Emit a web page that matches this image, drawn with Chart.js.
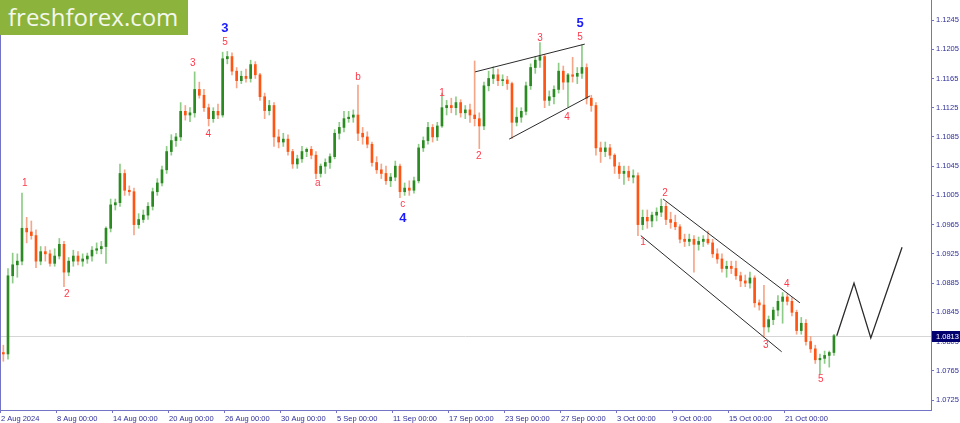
<!DOCTYPE html>
<html>
<head>
<meta charset="utf-8">
<title>EURUSD H4 - freshforex.com</title>
<script src="https://cdn.jsdelivr.net/npm/chart.js"></script>
<style>
    body {
        margin: 0;
        background: #fff;
    }

    #wrap {
        position: relative;
        width: 960px;
        height: 423px;
    }

    #logo {
        position: absolute;
        left: 0;
        top: 0;
        width: 188px;
        height: 35px;
        box-sizing: border-box;
        padding-left: 8px;
        background: #8cb43c;
        color: #f4f7ec;
        font-family: "Open Sans", sans-serif;
        font-size: 24px;
        line-height: 34px;
        white-space: nowrap;
    }
</style>
</head>
<body>
<div id="wrap">
    <canvas id="chart" width="960" height="423"></canvas>
    <div id="logo">freshforex.com</div>
</div>

<script>
// EURUSD, three bars per trading day, 2 Aug - 24 Oct 2024
var barsPerDay = 3;

var opens = [
    1.0790, 1.0788, 1.0895, 1.0910, 1.0915, 1.0960, 1.0955, 1.0950, 1.0915, 1.0928,
    1.0925, 1.0912, 1.0922, 1.0938, 1.0900, 1.0915, 1.0922, 1.0915, 1.0918, 1.0922,
    1.0930, 1.0932, 1.0935, 1.0960, 1.0992, 1.0995, 1.1035, 1.1012, 1.1010, 1.0965,
    1.0972, 1.0978, 1.0990, 1.1010, 1.1022, 1.1040, 1.1065, 1.1080, 1.1085, 1.1120,
    1.1115, 1.1118, 1.1150, 1.1142, 1.1125, 1.1110, 1.1120, 1.1115, 1.1192, 1.1195,
    1.1175, 1.1162, 1.1168, 1.1165, 1.1184, 1.1170, 1.1140, 1.1121, 1.1128, 1.1085,
    1.1078, 1.1082, 1.1065, 1.1048, 1.1055, 1.1065, 1.1068, 1.1060, 1.1035, 1.1045,
    1.1050, 1.1058, 1.1090, 1.1098, 1.1110, 1.1112, 1.1115, 1.1090, 1.1085, 1.1075,
    1.1050, 1.1040, 1.1035, 1.1025, 1.1030, 1.1045, 1.1010, 1.1015, 1.1012, 1.1025,
    1.1070, 1.1080, 1.1098, 1.1085, 1.1100, 1.1125, 1.1128, 1.1125, 1.1132, 1.1118,
    1.1122, 1.1115, 1.1110, 1.1100, 1.1155, 1.1165, 1.1170, 1.1162, 1.1163, 1.1158,
    1.1105, 1.1112, 1.1120, 1.1155, 1.1180, 1.1190, 1.1195, 1.1135, 1.1140, 1.1150,
    1.1175, 1.1160, 1.1170, 1.1168, 1.1172, 1.1180, 1.1138, 1.1128, 1.1070, 1.1065,
    1.1070, 1.1060, 1.1045, 1.1035, 1.1038, 1.1030, 1.1032, 1.0965, 1.0975, 1.0970,
    1.0978, 1.0982, 1.0990, 1.0972, 1.0968, 1.0962, 1.0945, 1.0942, 1.0945, 1.0938,
    1.0942, 1.0945, 1.0940, 1.0925, 1.0918, 1.0905, 1.0908, 1.0905, 1.0895, 1.0888,
    1.0885, 1.0892, 1.0858, 1.0855, 1.0825, 1.0835, 1.0848, 1.0860, 1.0866, 1.0860,
    1.0845, 1.0820, 1.0830, 1.0805, 1.0795, 1.0780, 1.0782, 1.0786, 1.0790
];
var highs = [
    1.0800, 1.0905, 1.0926, 1.0925, 1.1008, 1.0975, 1.0970, 1.0958, 1.0935, 1.0935,
    1.0930, 1.0932, 1.0946, 1.0942, 1.0920, 1.0930, 1.0928, 1.0925, 1.0926, 1.0935,
    1.0940, 1.0942, 1.0962, 1.1000, 1.1000, 1.1048, 1.1040, 1.1018, 1.1015, 1.0980,
    1.0985, 1.0995, 1.1015, 1.1028, 1.1045, 1.1072, 1.1088, 1.1090, 1.1132, 1.1128,
    1.1125, 1.1174, 1.1160, 1.1150, 1.1130, 1.1125, 1.1130, 1.1201, 1.1202, 1.1200,
    1.1180, 1.1175, 1.1178, 1.1190, 1.1188, 1.1172, 1.1145, 1.1135, 1.1132, 1.1095,
    1.1090, 1.1088, 1.1068, 1.1060, 1.1072, 1.1070, 1.1072, 1.1065, 1.1048, 1.1055,
    1.1062, 1.1095, 1.1105, 1.1120, 1.1120, 1.1122, 1.1156, 1.1098, 1.1092, 1.1078,
    1.1058, 1.1048, 1.1045, 1.1035, 1.1052, 1.1048, 1.1022, 1.1025, 1.1030, 1.1075,
    1.1085, 1.1105, 1.1102, 1.1105, 1.1145, 1.1135, 1.1138, 1.1140, 1.1136, 1.1128,
    1.1130, 1.1189, 1.1118, 1.1160, 1.1175, 1.1181, 1.1178, 1.1170, 1.1168, 1.1160,
    1.1125, 1.1125, 1.1160, 1.1185, 1.1195, 1.1214, 1.1198, 1.1148, 1.1155, 1.1186,
    1.1182, 1.1172, 1.1194, 1.1180, 1.1211, 1.1185, 1.1142, 1.1132, 1.1078, 1.1078,
    1.1075, 1.1062, 1.1050, 1.1045, 1.1045, 1.1040, 1.1036, 1.0985, 1.0985, 1.0982,
    1.0988, 1.1000, 1.0995, 1.0982, 1.0978, 1.0965, 1.0952, 1.0952, 1.0950, 1.0948,
    1.0950, 1.0956, 1.0945, 1.0932, 1.0925, 1.0915, 1.0915, 1.0915, 1.0900, 1.0896,
    1.0900, 1.0895, 1.0862, 1.0882, 1.0840, 1.0852, 1.0868, 1.0872, 1.0870, 1.0865,
    1.0848, 1.0838, 1.0835, 1.0812, 1.0800, 1.0788, 1.0792, 1.0792, 1.0815
];
var lows = [
    1.0778, 1.0781, 1.0885, 1.0893, 1.0910, 1.0940, 1.0945, 1.0906, 1.0910, 1.0915,
    1.0908, 1.0908, 1.0918, 1.0880, 1.0895, 1.0908, 1.0910, 1.0908, 1.0912, 1.0915,
    1.0925, 1.0925, 1.0912, 1.0955, 1.0985, 1.0990, 1.1005, 1.1005, 1.0951, 1.0960,
    1.0968, 1.0972, 1.0985, 1.1005, 1.1018, 1.1035, 1.1060, 1.1072, 1.1080, 1.1108,
    1.1106, 1.1112, 1.1138, 1.1120, 1.1100, 1.1105, 1.1110, 1.1112, 1.1185, 1.1170,
    1.1152, 1.1158, 1.1160, 1.1160, 1.1165, 1.1135, 1.1110, 1.1115, 1.1072, 1.1070,
    1.1072, 1.1060, 1.1042, 1.1042, 1.1050, 1.1058, 1.1055, 1.1028, 1.1030, 1.1035,
    1.1042, 1.1055, 1.1082, 1.1092, 1.1105, 1.1105, 1.1080, 1.1075, 1.1070, 1.1045,
    1.1035, 1.1028, 1.1020, 1.1017, 1.1025, 1.1002, 1.1005, 1.1005, 1.1008, 1.1022,
    1.1065, 1.1075, 1.1078, 1.1080, 1.1098, 1.1115, 1.1118, 1.1115, 1.1112, 1.1110,
    1.1105, 1.1100, 1.1069, 1.1095, 1.1148, 1.1158, 1.1155, 1.1155, 1.1150, 1.1083,
    1.1100, 1.1105, 1.1115, 1.1150, 1.1172, 1.1180, 1.1125, 1.1128, 1.1130, 1.1145,
    1.1150, 1.1126, 1.1160, 1.1158, 1.1165, 1.1130, 1.1120, 1.1060, 1.1050, 1.1058,
    1.1055, 1.1035, 1.1028, 1.1020, 1.1025, 1.1022, 1.0950, 1.0958, 1.0960, 1.0962,
    1.0970, 1.0976, 1.0965, 1.0960, 1.0958, 1.0940, 1.0935, 1.0936, 1.0900, 1.0930,
    1.0935, 1.0938, 1.0920, 1.0912, 1.0900, 1.0893, 1.0898, 1.0890, 1.0880, 1.0880,
    1.0878, 1.0852, 1.0848, 1.0811, 1.0818, 1.0828, 1.0840, 1.0830, 1.0855, 1.0840,
    1.0815, 1.0815, 1.0800, 1.0790, 1.0775, 1.0761, 1.0775, 1.0770, 1.0786
];
var closes = [
    1.0788, 1.0895, 1.0910, 1.0915, 1.0960, 1.0955, 1.0950, 1.0915, 1.0928, 1.0925,
    1.0912, 1.0922, 1.0938, 1.0900, 1.0915, 1.0922, 1.0915, 1.0918, 1.0922, 1.0930,
    1.0932, 1.0935, 1.0960, 1.0992, 1.0995, 1.1035, 1.1012, 1.1010, 1.0965, 1.0972,
    1.0978, 1.0990, 1.1010, 1.1022, 1.1040, 1.1065, 1.1080, 1.1085, 1.1120, 1.1115,
    1.1118, 1.1150, 1.1142, 1.1125, 1.1110, 1.1120, 1.1115, 1.1192, 1.1195, 1.1175,
    1.1162, 1.1168, 1.1165, 1.1184, 1.1170, 1.1140, 1.1121, 1.1128, 1.1085, 1.1078,
    1.1082, 1.1065, 1.1048, 1.1055, 1.1065, 1.1068, 1.1060, 1.1035, 1.1045, 1.1050,
    1.1058, 1.1090, 1.1098, 1.1110, 1.1112, 1.1115, 1.1090, 1.1085, 1.1075, 1.1050,
    1.1040, 1.1035, 1.1025, 1.1030, 1.1045, 1.1010, 1.1015, 1.1012, 1.1025, 1.1070,
    1.1080, 1.1098, 1.1085, 1.1100, 1.1125, 1.1128, 1.1125, 1.1132, 1.1118, 1.1122,
    1.1115, 1.1110, 1.1100, 1.1155, 1.1165, 1.1170, 1.1162, 1.1163, 1.1158, 1.1105,
    1.1112, 1.1120, 1.1155, 1.1180, 1.1190, 1.1195, 1.1135, 1.1140, 1.1150, 1.1175,
    1.1160, 1.1170, 1.1168, 1.1172, 1.1180, 1.1138, 1.1128, 1.1070, 1.1065, 1.1070,
    1.1060, 1.1045, 1.1035, 1.1038, 1.1030, 1.1032, 1.0965, 1.0975, 1.0970, 1.0978,
    1.0982, 1.0990, 1.0972, 1.0968, 1.0962, 1.0945, 1.0942, 1.0945, 1.0938, 1.0942,
    1.0945, 1.0940, 1.0925, 1.0918, 1.0905, 1.0908, 1.0905, 1.0895, 1.0888, 1.0885,
    1.0892, 1.0858, 1.0855, 1.0825, 1.0835, 1.0848, 1.0860, 1.0866, 1.0860, 1.0845,
    1.0820, 1.0830, 1.0805, 1.0795, 1.0780, 1.0782, 1.0786, 1.0790, 1.0813
];

var lastPrice = 1.0813;

// time axis: trading-day index of each label
var xTickDays = [0, 4, 8, 12, 16, 20, 24, 28, 32, 36, 40, 44, 48, 52, 56];
var xTickLabels = ['2 Aug 2024', '8 Aug 00:00', '14 Aug 00:00', '20 Aug 00:00', '26 Aug 00:00',
    '30 Aug 00:00', '5 Sep 00:00', '11 Sep 00:00', '17 Sep 00:00', '23 Sep 00:00',
    '27 Sep 00:00', '3 Oct 00:00', '9 Oct 00:00', '15 Oct 00:00', '21 Oct 00:00'];
var yTicks = [1.0725, 1.0765, 1.0805, 1.0845, 1.0885, 1.0925, 1.0965, 1.1005,
    1.1045, 1.1085, 1.1125, 1.1165, 1.1205, 1.1245];

// trend lines (x in bars, y in price)
var wedgeTopX = [101.1, 124.6], wedgeTopY = [1.1174, 1.1212];
var wedgeBottomX = [108.4, 125.7], wedgeBottomY = [1.1082, 1.1141];
var channelTopX = [141.4, 170.7], channelTopY = [1.1000, 1.0858];
var channelBottomX = [136.6, 166.8], channelBottomY = [1.0950, 1.0791];
var forecastX = [178.6, 182.3, 185.9, 192.6];
var forecastY = [1.0813, 1.0885, 1.0810, 1.0934];

// wave count labels
var waveText = ['1', '2', '3', '4', '5', '3', 'a', 'b', 'c', '4', '1', '2', '3', '4', '5', '5',
    '1', '2', '3', '4', '5'];
var waveX = [4.6, 13.6, 40.6, 43.9, 47.5, 47.5, 67.4, 76.0, 85.6, 85.6, 94.0, 101.9, 115.0, 120.8,
    123.6, 123.6, 137.1, 141.8, 163.4, 167.9, 175.2];
var waveY = [1.1021, 1.0870, 1.1186, 1.1088, 1.1214, 1.1233, 1.1021, 1.1166, 1.0993, 1.0974,
    1.1145, 1.1058, 1.1220, 1.1112, 1.1222, 1.1241, 1.0941, 1.1008, 1.0800, 1.0884, 1.0754];
var waveMajor = [false, false, false, false, false, true, false, false, false, true, false, false,
    false, false, false, true, false, false, false, false, false];

var axisColor = '#7474c6';
var textColor = '#2e2e9a';
var bullBody = '#2b8a22', bearBody = '#ff5514';
var bullWick = '#8ccc86', bearWick = '#f6a688';

function points(xs, ys) {
    return xs.map(function(x, i) { return {x: x, y: ys[i]}; });
}

function trendLine(xs, ys, width) {
    return {
        type: 'line',
        data: points(xs, ys),
        borderColor: '#2a2a2a',
        borderWidth: width,
        pointRadius: 0,
        fill: false,
        order: 1
    };
}

var overlay = {
    id: 'overlay',
    beforeDatasetsDraw: function(chart) {
        var ctx = chart.ctx, a = chart.chartArea;
        var py = Math.round(chart.scales.y.getPixelForValue(lastPrice)) + 0.5;
        ctx.save();
        ctx.strokeStyle = '#d6d6d6';
        ctx.lineWidth = 1;
        ctx.beginPath();
        ctx.moveTo(a.left, py);
        ctx.lineTo(a.right, py);
        ctx.stroke();
        ctx.strokeStyle = axisColor;
        ctx.beginPath();
        ctx.moveTo(a.left + 0.5, a.top);
        ctx.lineTo(a.left + 0.5, a.bottom);
        ctx.stroke();
        ctx.restore();
    },
    afterDatasetsDraw: function(chart) {
        var ctx = chart.ctx, xs = chart.scales.x, ys = chart.scales.y;
        ctx.save();
        ctx.textAlign = 'center';
        ctx.textBaseline = 'middle';
        waveText.forEach(function(t, i) {
            if (waveMajor[i]) {
                ctx.fillStyle = '#1a1aff';
                ctx.font = 'bold 13px "Liberation Sans"';
            } else {
                ctx.fillStyle = '#ff3a4c';
                ctx.font = '10px "Liberation Sans"';
            }
            ctx.fillText(t, xs.getPixelForValue(waveX[i]), ys.getPixelForValue(waveY[i]));
        });
        ctx.restore();
    },
    afterDraw: function(chart) {
        var ctx = chart.ctx, a = chart.chartArea;
        var py = Math.round(chart.scales.y.getPixelForValue(lastPrice));
        ctx.save();
        ctx.fillStyle = '#00006e';
        ctx.fillRect(a.right + 1, py - 5, chart.width - a.right - 1, 11);
        ctx.fillStyle = '#ffffff';
        ctx.font = '7.5px "Liberation Sans"';
        ctx.textBaseline = 'middle';
        ctx.textAlign = 'left';
        ctx.fillText(lastPrice.toFixed(4), a.right + 5, py + 0.5);
        ctx.restore();
    }
};

window.onload = function() {
    var ctx = document.getElementById('chart').getContext('2d');
    new Chart(ctx, {
        type: 'bar',
        data: {
            datasets: [
                {
                    label: 'wicks',
                    data: highs.map(function(h, i) { return {x: i, y: [lows[i], h]}; }),
                    backgroundColor: closes.map(function(c, i) { return c >= opens[i] ? bullWick : bearWick; }),
                    barThickness: 1,
                    grouped: false,
                    order: 3
                },
                {
                    label: 'bodies',
                    data: opens.map(function(o, i) { return {x: i, y: [o, closes[i]]}; }),
                    backgroundColor: closes.map(function(c, i) { return c >= opens[i] ? bullBody : bearBody; }),
                    barThickness: 2,
                    minBarLength: 1,
                    grouped: false,
                    order: 2
                },
                trendLine(wedgeTopX, wedgeTopY, 1),
                trendLine(wedgeBottomX, wedgeBottomY, 1),
                trendLine(channelTopX, channelTopY, 1),
                trendLine(channelBottomX, channelBottomY, 1),
                trendLine(forecastX, forecastY, 1.3)
            ]
        },
        options: {
            responsive: false,
            devicePixelRatio: 1,
            animation: false,
            layout: {padding: 0},
            plugins: {
                legend: {display: false},
                tooltip: {enabled: false}
            },
            scales: {
                x: {
                    type: 'linear',
                    min: -0.714,
                    max: 198.8,
                    offset: false,
                    grid: {drawOnChartArea: false, tickLength: 3, tickColor: axisColor, offset: false},
                    border: {color: axisColor},
                    ticks: {
                        autoSkip: false,
                        maxRotation: 0,
                        align: 'start',
                        padding: 1,
                        color: textColor,
                        font: {family: 'Liberation Sans', size: 7.5},
                        callback: function(v, i) { return xTickLabels[i]; }
                    },
                    afterBuildTicks: function(s) {
                        s.ticks = xTickDays.map(function(d) { return {value: d * barsPerDay - 0.5}; });
                    },
                    afterFit: function(s) {
                        s.height = 13;
                        s.paddingLeft = 0;
                        s.paddingRight = 0;
                    }
                },
                y: {
                    position: 'right',
                    min: 1.071132,
                    max: 1.127237,
                    grid: {drawOnChartArea: false, tickLength: 3, tickColor: axisColor},
                    border: {color: axisColor},
                    ticks: {
                        padding: 2,
                        color: textColor,
                        font: {family: 'Liberation Sans', size: 7.5},
                        callback: function(v) { return v.toFixed(4); }
                    },
                    afterBuildTicks: function(s) {
                        s.ticks = yTicks.map(function(v) { return {value: v}; });
                    },
                    afterFit: function(s) {
                        s.width = 29;
                        s.paddingTop = 0;
                        s.paddingBottom = 0;
                    }
                }
            }
        },
        plugins: [overlay]
    });
};
</script>
</body>
</html>
